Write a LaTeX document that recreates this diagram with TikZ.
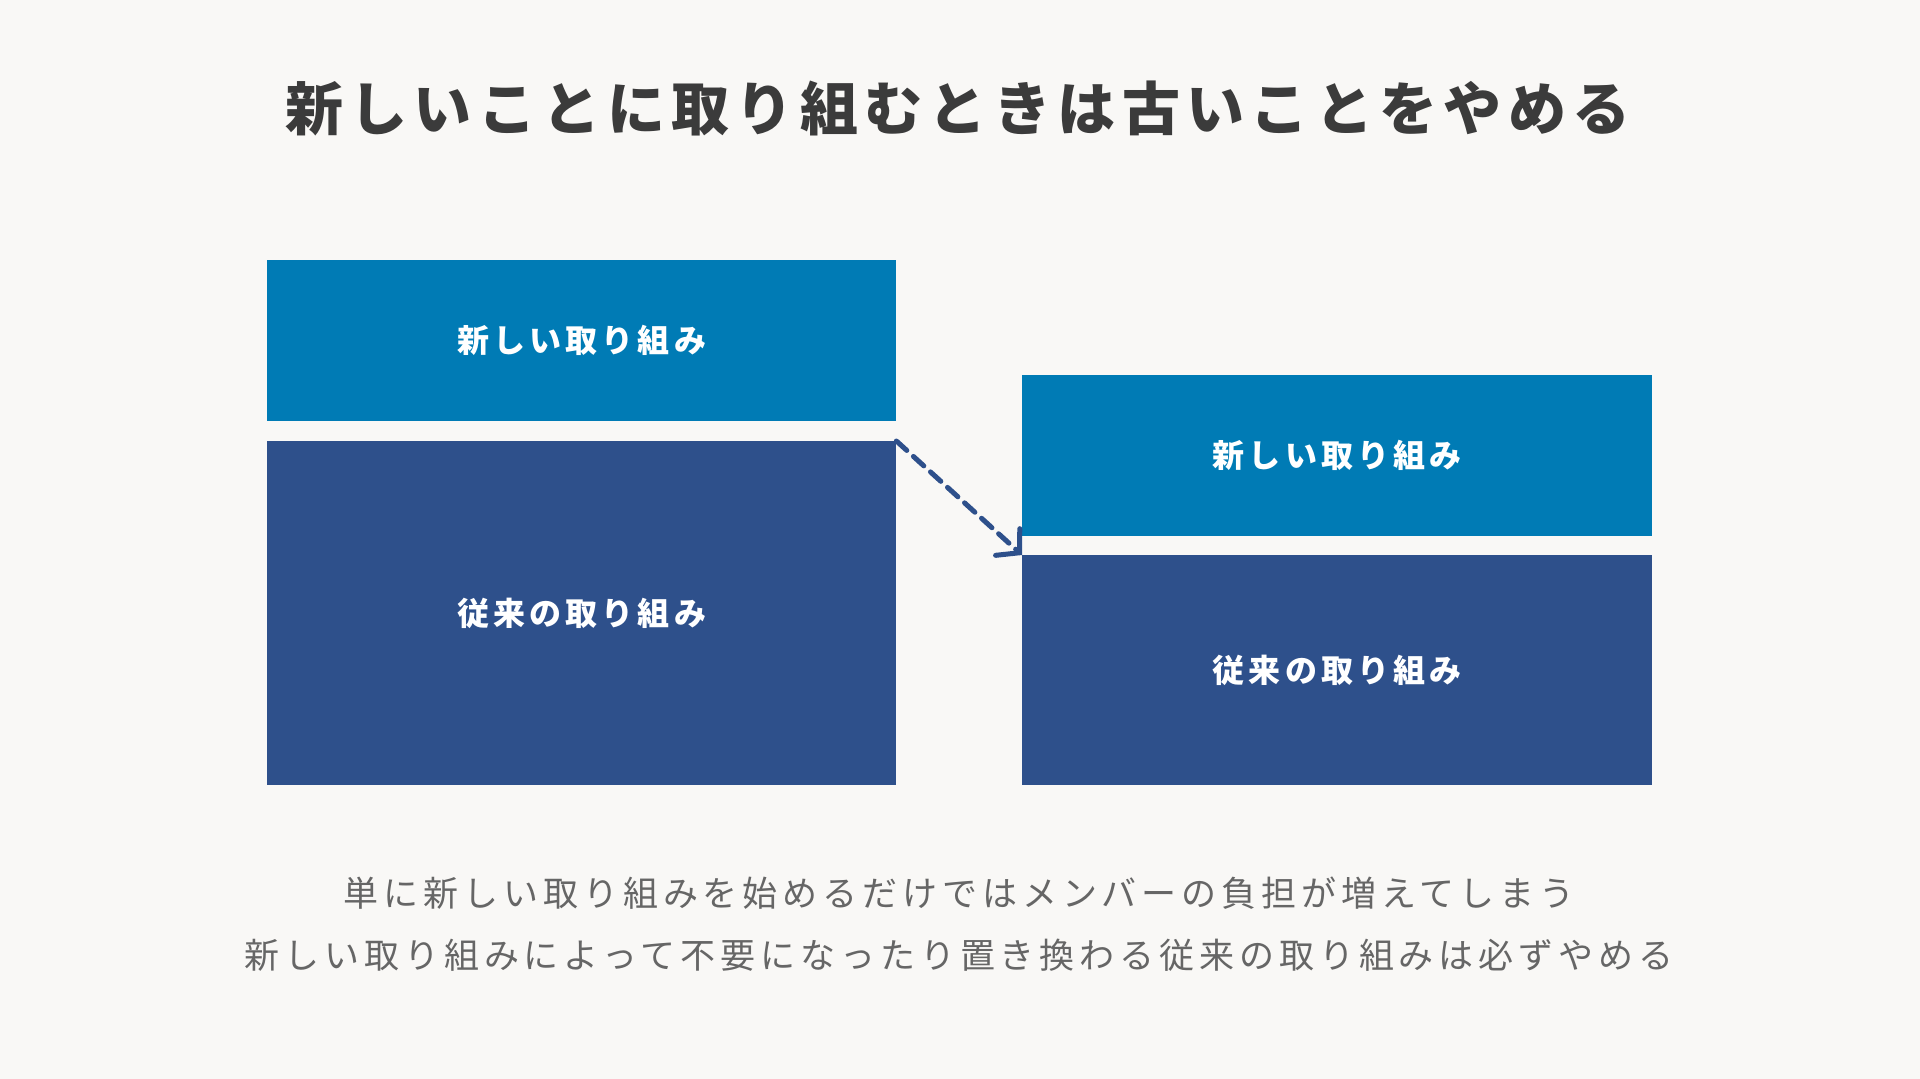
\documentclass[tikz,border=0pt]{standalone}
\usepackage{fontspec}
\usetikzlibrary{arrows.meta}
\newfontfamily\jpfont{Noto Sans CJK JP}
\newfontfamily\jptitle[LetterSpace=11]{Noto Sans CJK JP}
\newfontfamily\jpbox[LetterSpace=13]{Noto Sans CJK JP}
\newfontfamily\jpcap[LetterSpace=14]{Noto Sans CJK JP}
\definecolor{bgpaper}{HTML}{F9F8F6}
\definecolor{newblue}{HTML}{007BB5}
\definecolor{oldblue}{HTML}{2E508B}
\definecolor{titlegray}{HTML}{3B3B3B}
\definecolor{capgray}{HTML}{666666}
\tikzset{
  block/.style={anchor=north west,inner sep=0pt,text=white,
    font=\jpbox\fontsize{32}{36}\selectfont\bfseries},
  newbox/.style={block,fill=newblue},
  oldbox/.style={block,fill=oldblue}
}
\begin{document}
\begin{tikzpicture}[x=1pt,y=-1pt,line join=round,>=stealth]
		\fill[bgpaper] (0,0) rectangle (1920,1079);
		\useasboundingbox (0,0) rectangle (1920,1079);
		\node[text=titlegray,font=\jptitle\fontsize{58}{66}\selectfont\bfseries] (title) at (958,108) {新しいことに取り組むときは古いことをやめる};
		% left: before
		\node[newbox,minimum width=629,minimum height=161] (lnew) at (267,260) {新しい取り組み};
		\node[oldbox,minimum width=629,minimum height=344] (lold) at (267,441) {従来の取り組み};
		% right: after
		\node[newbox,minimum width=630,minimum height=161] (rnew) at (1022,375) {新しい取り組み};
		\node[oldbox,minimum width=630,minimum height=230] (rold) at (1022,555) {従来の取り組み};
		\draw[oldblue,line width=5,dash pattern=on 14 off 9,line cap=round,
		  -{Straight Barb[length=16,width=36,line cap=round]}] (lold.north east) -- (rold.north west);
		\node[text=capgray,font=\jpcap\fontsize{35}{40}\selectfont] (cap1) at (959,893) {単に新しい取り組みを始めるだけではメンバーの負担が増えてしまう};
		\node[text=capgray,font=\jpcap\fontsize{35}{40}\selectfont] (cap2) at (959,955) {新しい取り組みによって不要になったり置き換わる従来の取り組みは必ずやめる};
\end{tikzpicture}
\end{document}
